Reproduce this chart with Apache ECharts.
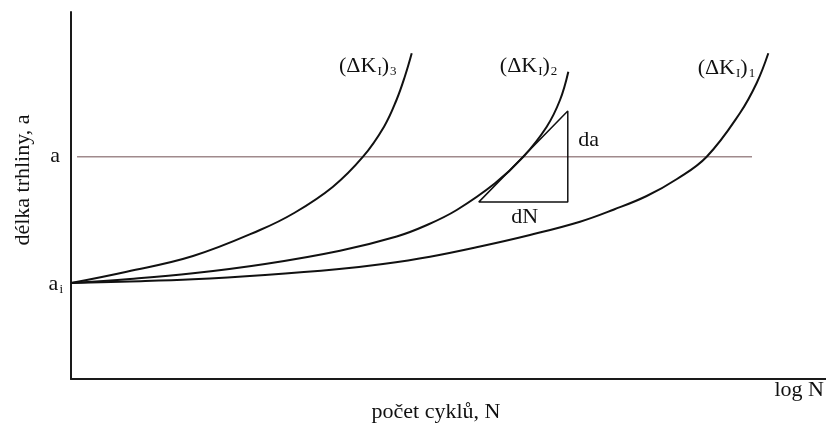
<!DOCTYPE html>
<html>
<head>
<meta charset="utf-8">
<script src="https://cdn.jsdelivr.net/npm/echarts@6/dist/echarts.min.js"></script>
<style>
  html, body { margin: 0; padding: 0; background: #ffffff; }
  #chart { width: 826px; height: 428px; }
</style>
</head>
<body>
<div id="chart"></div>
<script>
// Crack growth a vs. log N for three stress-intensity ranges (schematic units 0..100)
const crackInitial = 26.16;  // a_i
const crackLevel = 60.57;    // a
const levelSpan = [0.8, 90.2];

// (ΔK_I)_3 — highest range, fastest growth
const curveK3 = [[0, 26.16], [7.38, 29.24], [16.16, 33.51], [25.03, 40.60], [29.67, 45.37],
                 [34.70, 52.40], [38.68, 60.57], [41.46, 68.75], [43.11, 76.02], [44.24, 82.56],
                 [45.13, 88.75]];
// (ΔK_I)_2
const curveK2 = [[0, 26.16], [7.81, 27.25], [16.16, 28.80], [25.70, 31.34], [35.63, 34.96],
                 [43.14, 38.83], [47.15, 41.96], [51.09, 46.05], [56.16, 53.32], [59.91, 60.57],
                 [63.01, 68.75], [64.77, 76.02], [65.87, 83.73]];
// (ΔK_I)_1 — lowest range, slowest growth
const curveK1 = [[0, 26.16], [7.81, 26.57], [16.16, 27.17], [25.70, 28.34], [35.19, 29.89],
                 [41.32, 31.34], [47.55, 33.32], [54.17, 36.10], [60.79, 39.24], [67.42, 42.86],
                 [71.92, 46.19], [76.25, 49.86], [80.26, 54.50], [84.20, 60.57], [88.61, 72.48],
                 [90.82, 80.65], [92.36, 88.75]];

// slope triangle da/dN on curve 2
const slopeTriangle = [[54.0, 48.2], [65.8, 48.2], [65.8, 73.0], [54.0, 48.2]];

const FONT = '"Liberation Serif", "DejaVu Serif", serif';
const INK = '#111111';

const chart = echarts.init(document.getElementById('chart'), null, { renderer: 'canvas' });

const curveStyle = { color: INK, width: 2 };
function curve(name, data) {
  return {
    name, type: 'line', data, smooth: 0.4,
    showSymbol: false, symbol: 'none', lineStyle: curveStyle, z: 3, clip: false,
    emphasis: { disabled: true }
  };
}

chart.setOption({
  animation: false,
  backgroundColor: '#ffffff',
  grid: { left: 71, right: 0, top: 12, bottom: 49 },
  xAxis: {
    type: 'value', min: 0, max: 100,
    axisLine: { show: true, lineStyle: { color: '#1a1a1a', width: 2 } },
    axisTick: { show: false }, axisLabel: { show: false }, splitLine: { show: false }
  },
  yAxis: {
    type: 'value', min: 0, max: 100,
    axisLine: { show: true, lineStyle: { color: '#1a1a1a', width: 2 } },
    axisTick: { show: false }, splitLine: { show: false },
    axisLabel: { show: false }
  },
  series: [
    {
      name: 'a', type: 'line',
      data: [[levelSpan[0], crackLevel], [levelSpan[1], crackLevel]],
      showSymbol: false, symbol: 'none',
      lineStyle: { color: '#a08a8c', width: 1.6 }, z: 2,
      emphasis: { disabled: true }
    },
    curve('(ΔK_I)_3', curveK3),
    curve('(ΔK_I)_2', curveK2),
    curve('(ΔK_I)_1', curveK1),
    {
      name: 'da/dN', type: 'line', data: slopeTriangle,
      showSymbol: false, symbol: 'none',
      lineStyle: { color: INK, width: 1.5 }, z: 4,
      emphasis: { disabled: true }
    }
  ]
});

const px = (x, y) => chart.convertToPixel({ gridIndex: 0 }, [x, y]);

const richBase = {
  m: { fontFamily: FONT, fontSize: 22, color: INK, lineHeight: 24 },
  s: { fontFamily: FONT, fontSize: 13, color: INK, lineHeight: 24, verticalAlign: 'bottom', padding: [9, 0, 0, 1] }
};

function label(text, pos, align, vAlign, rot) {
  return {
    type: 'text', x: pos[0], y: pos[1], rotation: rot || 0, z: 10,
    style: {
      text, align: align || 'left', verticalAlign: vAlign || 'middle',
      rich: richBase, fontFamily: FONT, fontSize: 22, fill: INK
    }
  };
}

const yaxisX = px(0, 0)[0];
const pA = px(0, crackLevel);
const pAi = px(0, crackInitial);

chart.setOption({
  graphic: [
    label('{m|a}', [yaxisX - 11, pA[1]], 'right'),
    label('{m|a}{s|i}', [yaxisX - 8, pAi[1] + 1], 'right'),
    label('{m|(ΔK}{s|I}{m|)}{s|3}', px(35.5, 85.3)),
    label('{m|(ΔK}{s|I}{m|)}{s|2}', px(56.8, 85.3)),
    label('{m|(ΔK}{s|I}{m|)}{s|1}', px(83.0, 84.7)),
    label('{m|da}', px(67.2, 65.1)),
    label('{m|dN}', px(60.1, 44.1), 'center'),
    label('{m|log N}', [824, 390], 'right'),
    label('{m|počet cyklů, N}', [436, 412], 'center'),
    {
      type: 'text', x: 23, y: 180, rotation: Math.PI / 2, z: 10,
      style: { text: 'délka trhliny, a', align: 'center', verticalAlign: 'middle',
               fontFamily: FONT, fontSize: 22, fill: INK }
    }
  ]
});
</script>
</body>
</html>
